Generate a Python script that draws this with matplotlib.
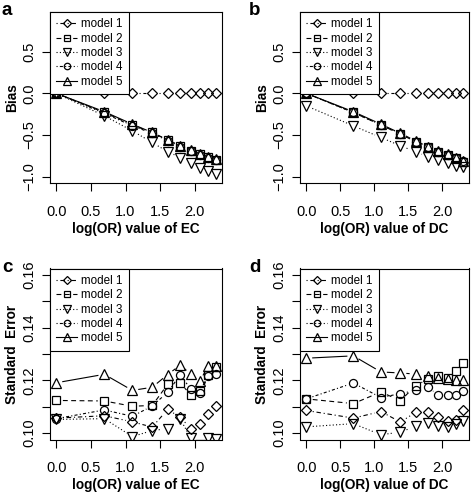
import numpy as np
import matplotlib
matplotlib.use("Agg")
import matplotlib.pyplot as plt
from matplotlib.lines import Line2D

plt.rcParams['font.family'] = ['Liberation Sans', 'DejaVu Sans']
plt.rcParams['lines.scale_dashes'] = False

# log(OR) values on the x axis (OR = 1..10)
log_or = [0.0, 0.693, 1.099, 1.386, 1.609, 1.792, 1.946, 2.079, 2.197, 2.303]
models = ["model 1", "model 2", "model 3", "model 4", "model 5"]

# panel a: bias, EC
bias_ec = [
    [0.00, 0.00, 0.00, 0.00, 0.00, 0.00, 0.00, 0.00, 0.00, 0.00],
    [0.00, -0.23, -0.38, -0.47, -0.56, -0.63, -0.69, -0.73, -0.76, -0.80],
    [0.00, -0.27, -0.45, -0.59, -0.70, -0.77, -0.84, -0.90, -0.93, -0.97],
    [0.00, -0.24, -0.39, -0.48, -0.57, -0.64, -0.69, -0.74, -0.77, -0.80],
    [0.00, -0.22, -0.37, -0.47, -0.56, -0.63, -0.68, -0.73, -0.76, -0.79],
]
# panel b: bias, DC
bias_dc = [
    [0.00, 0.00, 0.00, 0.00, 0.00, 0.00, 0.00, 0.00, 0.00, 0.00],
    [0.00, -0.23, -0.38, -0.49, -0.58, -0.65, -0.70, -0.74, -0.78, -0.82],
    [-0.15, -0.39, -0.53, -0.63, -0.70, -0.76, -0.80, -0.84, -0.87, -0.89],
    [0.00, -0.23, -0.38, -0.49, -0.58, -0.64, -0.70, -0.74, -0.78, -0.81],
    [0.00, -0.22, -0.37, -0.48, -0.57, -0.64, -0.69, -0.73, -0.77, -0.81],
]
# panel c: standard error, EC
se_ec = [
    [0.1057, 0.1066, 0.1043, 0.1023, 0.1090, 0.1060, 0.1017, 0.1036, 0.1073, 0.1102],
    [0.1124, 0.1122, 0.1102, 0.1105, 0.1185, 0.1189, 0.1145, 0.1160, 0.1219, 0.1252],
    [0.1052, 0.1055, 0.0987, 0.1010, 0.1017, 0.1053, 0.0981, 0.0955, 0.0981, 0.0978],
    [0.1055, 0.1088, 0.1064, 0.1103, 0.1155, 0.1221, 0.1166, 0.1151, 0.1216, 0.1223],
    [0.1191, 0.1223, 0.1162, 0.1174, 0.1222, 0.1258, 0.1223, 0.1199, 0.1256, 0.1256],
]
# panel d: standard error, DC
se_dc = [
    [0.1086, 0.1057, 0.1082, 0.1042, 0.1079, 0.1079, 0.1060, 0.1045, 0.1048, 0.1089],
    [0.1130, 0.1112, 0.1156, 0.1123, 0.1180, 0.1205, 0.1215, 0.1210, 0.1237, 0.1266],
    [0.1024, 0.1036, 0.0994, 0.1004, 0.1026, 0.1038, 0.1027, 0.1023, 0.1034, 0.1046],
    [0.1130, 0.1190, 0.1135, 0.1150, 0.1162, 0.1175, 0.1143, 0.1144, 0.1146, 0.1158],
    [0.1284, 0.1293, 0.1232, 0.1228, 0.1224, 0.1216, 0.1210, 0.1205, 0.1200, 0.1202],
]

markers = ['D', 's', 'v', 'o', '^']
msizes = [5.2, 5.4, 7.0, 5.8, 7.0]
dashes = [(0, (0.8, 2.0, 3.2, 2.0)), (0, (3.5, 2.5)), (0, (0.8, 1.6)),
          (0, (0.8, 1.6, 2.2, 1.6)), '-']
LW = 0.8
GAP = 6.5  # px, R type="b" gap around points


def type_b(ax, x, y, ls):
    # lines with gaps around the points, like R's type="b"
    pts = ax.transData.transform(np.column_stack([x, y]))
    inv = ax.transData.inverted()
    for p0, p1 in zip(pts[:-1], pts[1:]):
        d = p1 - p0
        L = np.hypot(d[0], d[1])
        if L <= 2 * GAP:
            continue
        u = d / L
        seg = inv.transform(np.array([p0 + u * GAP, p1 - u * GAP]))
        ax.plot(seg[:, 0], seg[:, 1], color='k', lw=LW, linestyle=ls)


def r_lim(lo, hi):
    ext = (hi - lo) * 0.04
    return lo - ext, hi + ext


fig = plt.figure(figsize=(4.72, 4.92), dpi=100)
W, H = 472, 492
boxes = [(50, 12, 172, 171), (300, 12, 169, 171), (50, 268.5, 172, 171), (300, 268.5, 169, 171)]
panels = [
    (bias_ec, "a", "Bias", "log(OR) value of EC"),
    (bias_dc, "b", "Bias", "log(OR) value of DC"),
    (se_ec, "c", "Standard  Error", "log(OR) value of EC"),
    (se_dc, "d", "Standard  Error", "log(OR) value of DC"),
]

for (data, letter, ylab, xlab), (l, t, w, h) in zip(panels, boxes):
    ax = fig.add_axes([l / W, 1 - (t + h) / H, w / W, h / H])
    ax.set_xlim(*r_lim(min(log_or), max(log_or)))
    if ylab == "Bias":
        ax.set_ylim(*r_lim(-1.0, 0.9))
        ax.set_yticks([-1.0, -0.5, 0.0, 0.5])
        ax.set_yticklabels(["\u22121.0", "\u22120.5", "0.0", "0.5"])
    else:
        ax.set_ylim(*r_lim(0.10, 0.16))
        yt = [0.10, 0.11, 0.12, 0.13, 0.14, 0.15, 0.16]
        ax.set_yticks(yt)
        ax.set_yticklabels(["0.10", "", "0.12", "", "0.14", "", "0.16"])
    ax.set_xticks([0.0, 0.5, 1.0, 1.5, 2.0])
    ax.set_xticklabels(["0.0", "0.5", "1.0", "1.5", "2.0"])

    for k in range(5):
        type_b(ax, log_or, data[k], dashes[k])
        ax.plot(log_or, data[k], linestyle='none', marker=markers[k], ms=msizes[k],
                mfc='none', mec='k', mew=0.9)

    for s in ax.spines.values():
        s.set_linewidth(0.8)
    ax.tick_params(direction='out', length=5.5, width=0.8, labelsize=10.5)
    ax.tick_params(axis='x', pad=10)
    ax.tick_params(axis='y', pad=4.5, labelrotation=90)
    for tl in ax.get_yticklabels():
        tl.set_va('center')
    ax.set_xlabel(xlab, fontsize=9.8, fontweight='bold')
    ax.xaxis.set_label_coords(0.5, -39 / h)
    ax.set_ylabel(ylab, fontsize=9.8, fontweight='bold')
    ax.yaxis.set_label_coords(-31 / w, 0.5)

    # legend symbols are a bit smaller than the plotted points
    handles = [Line2D([], [], color='k', lw=LW, linestyle=dashes[k], marker=markers[k],
                      ms=msizes[k] * 0.8, mfc='none', mec='k', mew=0.9) for k in range(5)]
    leg = ax.legend(handles, models, loc='upper left', fontsize=8.4, borderaxespad=0,
                    fancybox=False, edgecolor='k', framealpha=1, borderpad=0.55,
                    handlelength=1.8, handletextpad=0.3, labelspacing=0.2)
    leg.get_frame().set_linewidth(0.8)

    fig.text((l - 48) / W if l < 100 else (l - 51) / W, 1 - (t + 3) / H, letter,
             fontsize=13.5, fontweight='bold', ha='left', va='baseline')

fig.savefig("out.png", dpi=100)
